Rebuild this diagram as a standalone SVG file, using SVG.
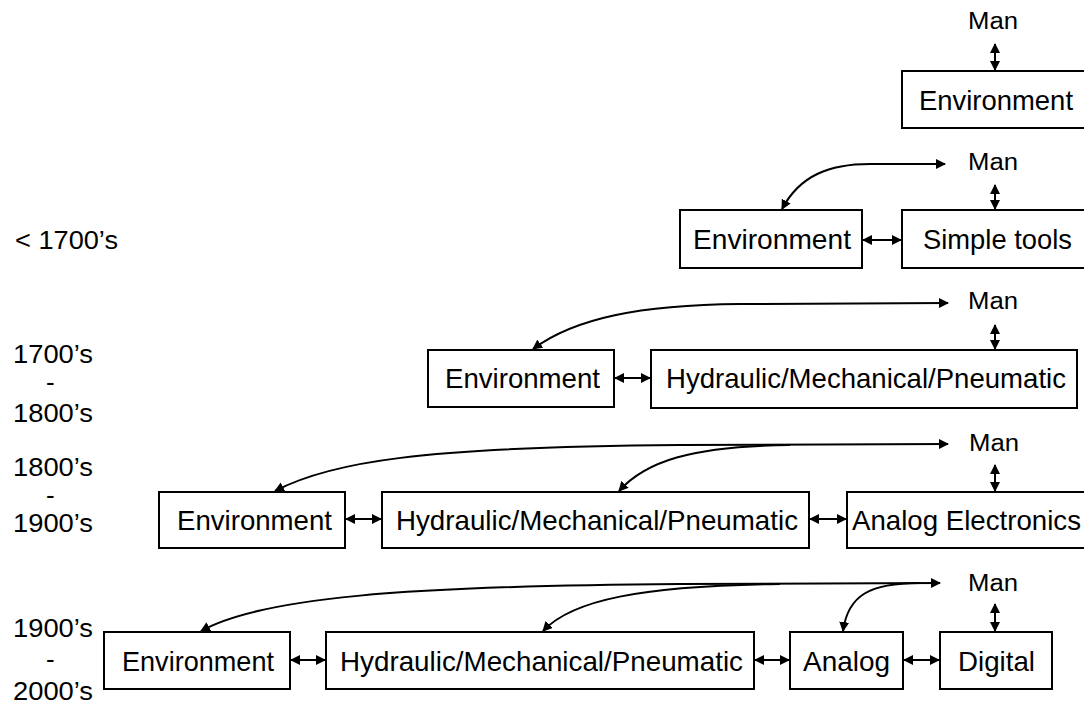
<svg xmlns="http://www.w3.org/2000/svg" width="1084" height="706" viewBox="0 0 1084 706">
  <style>
    .box { fill: #ffffff; stroke: #000000; stroke-width: 2; }
    .t { font-family: "Liberation Sans", Arial, sans-serif; font-size: 28px; fill: #000000; }
    .man { font-family: "Liberation Sans", Arial, sans-serif; font-size: 23px; fill: #000000; }
    .era { font-family: "Liberation Sans", Arial, sans-serif; font-size: 26px; fill: #000000; }
    .link { fill: none; stroke: #000000; stroke-width: 2; }
  </style>
  <defs>
    <marker id="head" viewBox="0 0 10 10" refX="9" refY="5" markerWidth="5" markerHeight="5" orient="auto-start-reverse" markerUnits="strokeWidth">
      <path d="M0,0 L10,5 L0,10 Z" fill="#000000"/>
    </marker>
  </defs>
  <rect width="1084" height="706" fill="#ffffff"/>

  <!-- era labels down the left side -->
  <g id="eras">
    <text class="era" x="15" y="249" textLength="103" lengthAdjust="spacingAndGlyphs">&lt; 1700’s</text>
    <text class="era" x="13" y="363" textLength="80" lengthAdjust="spacingAndGlyphs">1700’s</text>
    <text class="era" x="46" y="391">-</text>
    <text class="era" x="13" y="422" textLength="80" lengthAdjust="spacingAndGlyphs">1800’s</text>
    <text class="era" x="13" y="476" textLength="80" lengthAdjust="spacingAndGlyphs">1800’s</text>
    <text class="era" x="46" y="504">-</text>
    <text class="era" x="13" y="532" textLength="80" lengthAdjust="spacingAndGlyphs">1900’s</text>
    <text class="era" x="13" y="637" textLength="80" lengthAdjust="spacingAndGlyphs">1900’s</text>
    <text class="era" x="46" y="668">-</text>
    <text class="era" x="13" y="700" textLength="80" lengthAdjust="spacingAndGlyphs">2000’s</text>
  </g>

  <!-- row 1 -->
  <g id="man1"><text class="man" x="968" y="29" textLength="50" lengthAdjust="spacingAndGlyphs">Man</text></g>
  <g id="env1">
    <rect class="box" x="902" y="71" width="200" height="57"/>
    <text class="t" x="919" y="110" textLength="154" lengthAdjust="spacingAndGlyphs">Environment</text>
  </g>

  <!-- row 2 -->
  <g id="man2"><text class="man" x="968" y="170" textLength="50" lengthAdjust="spacingAndGlyphs">Man</text></g>
  <g id="env2">
    <rect class="box" x="680" y="210" width="182" height="58"/>
    <text class="t" x="693" y="249" textLength="158" lengthAdjust="spacingAndGlyphs">Environment</text>
  </g>
  <g id="tools2">
    <rect class="box" x="902" y="210" width="200" height="58"/>
    <text class="t" x="923" y="249" textLength="149" lengthAdjust="spacingAndGlyphs">Simple tools</text>
  </g>

  <!-- row 3 -->
  <g id="man3"><text class="man" x="968" y="309" textLength="50" lengthAdjust="spacingAndGlyphs">Man</text></g>
  <g id="env3">
    <rect class="box" x="428" y="350" width="186" height="57"/>
    <text class="t" x="445" y="388" textLength="155" lengthAdjust="spacingAndGlyphs">Environment</text>
  </g>
  <g id="hmp3">
    <rect class="box" x="651" y="350" width="426" height="58"/>
    <text class="t" x="666" y="388" textLength="400" lengthAdjust="spacingAndGlyphs">Hydraulic/Mechanical/Pneumatic</text>
  </g>

  <!-- row 4 -->
  <g id="man4"><text class="man" x="969" y="451" textLength="50" lengthAdjust="spacingAndGlyphs">Man</text></g>
  <g id="env4">
    <rect class="box" x="159" y="492" width="186" height="56"/>
    <text class="t" x="177" y="530" textLength="155" lengthAdjust="spacingAndGlyphs">Environment</text>
  </g>
  <g id="hmp4">
    <rect class="box" x="382" y="492" width="427" height="56"/>
    <text class="t" x="396" y="530" textLength="402" lengthAdjust="spacingAndGlyphs">Hydraulic/Mechanical/Pneumatic</text>
  </g>
  <g id="analog4">
    <rect class="box" x="847" y="492" width="260" height="56"/>
    <text class="t" x="852" y="530" textLength="229" lengthAdjust="spacingAndGlyphs">Analog Electronics</text>
  </g>

  <!-- row 5 -->
  <g id="man5"><text class="man" x="968" y="591" textLength="50" lengthAdjust="spacingAndGlyphs">Man</text></g>
  <g id="env5">
    <rect class="box" x="104" y="632" width="186" height="57"/>
    <text class="t" x="122" y="671" textLength="152" lengthAdjust="spacingAndGlyphs">Environment</text>
  </g>
  <g id="hmp5">
    <rect class="box" x="326" y="632" width="428" height="57"/>
    <text class="t" x="340" y="671" textLength="403" lengthAdjust="spacingAndGlyphs">Hydraulic/Mechanical/Pneumatic</text>
  </g>
  <g id="analog5">
    <rect class="box" x="790" y="632" width="113" height="57"/>
    <text class="t" x="803" y="671" textLength="87" lengthAdjust="spacingAndGlyphs">Analog</text>
  </g>
  <g id="digital5">
    <rect class="box" x="940" y="632" width="112" height="57"/>
    <text class="t" x="958" y="671" textLength="77" lengthAdjust="spacingAndGlyphs">Digital</text>
  </g>

  <!-- connectors -->
  <g id="connectors">
    <!-- row 1 -->
    <line class="link" x1="995" y1="44" x2="995" y2="70" marker-start="url(#head)" marker-end="url(#head)"/>
    <!-- row 2 -->
    <line class="link" x1="995" y1="185" x2="995" y2="209" marker-start="url(#head)" marker-end="url(#head)"/>
    <line class="link" x1="863" y1="240" x2="901" y2="240" marker-start="url(#head)" marker-end="url(#head)"/>
    <path class="link" d="M945,164 L870,164 C830,164 800,175 782,209" marker-start="url(#head)" marker-end="url(#head)"/>
    <!-- row 3 -->
    <line class="link" x1="995" y1="325" x2="995" y2="349" marker-start="url(#head)" marker-end="url(#head)"/>
    <line class="link" x1="615" y1="378" x2="650" y2="378" marker-start="url(#head)" marker-end="url(#head)"/>
    <path class="link" d="M948,303 L740,304 C640,305 575,318 533,349" marker-start="url(#head)" marker-end="url(#head)"/>
    <!-- row 4 -->
    <line class="link" x1="995" y1="465" x2="995" y2="491" marker-start="url(#head)" marker-end="url(#head)"/>
    <line class="link" x1="346" y1="519" x2="381" y2="519" marker-start="url(#head)" marker-end="url(#head)"/>
    <line class="link" x1="810" y1="519" x2="846" y2="519" marker-start="url(#head)" marker-end="url(#head)"/>
    <path class="link" d="M948,444 L680,445 C420,447 330,462 275,491" marker-start="url(#head)" marker-end="url(#head)"/>
    <path class="link" d="M790,445 C690,446 645,462 619,491" marker-end="url(#head)"/>
    <!-- row 5 -->
    <line class="link" x1="995" y1="604" x2="995" y2="631" marker-start="url(#head)" marker-end="url(#head)"/>
    <line class="link" x1="291" y1="660" x2="325" y2="660" marker-start="url(#head)" marker-end="url(#head)"/>
    <line class="link" x1="755" y1="660" x2="789" y2="660" marker-start="url(#head)" marker-end="url(#head)"/>
    <line class="link" x1="904" y1="660" x2="939" y2="660" marker-start="url(#head)" marker-end="url(#head)"/>
    <path class="link" d="M940,583 L680,584 C400,586 260,598 201,631" marker-start="url(#head)" marker-end="url(#head)"/>
    <path class="link" d="M780,584 C640,586 572,600 543,631" marker-end="url(#head)"/>
    <path class="link" d="M920,583 C870,583 848,595 843,631" marker-end="url(#head)"/>
  </g>
</svg>
